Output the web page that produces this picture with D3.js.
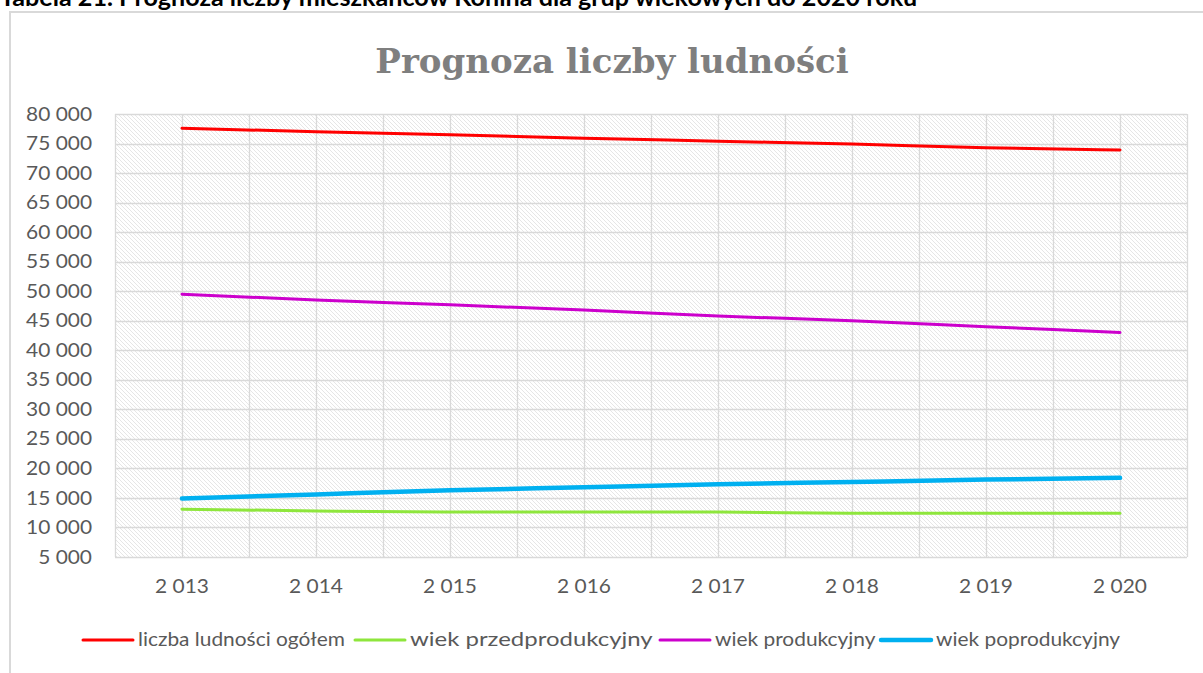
<!DOCTYPE html>
<html><head><meta charset="utf-8">
<script src="https://cdn.jsdelivr.net/npm/d3@7"></script>
<style>
html,body{margin:0;padding:0;background:#fff;overflow:hidden}
svg{display:block}
</style></head>
<body>
<svg id="c" width="1203" height="673"></svg>
<script>
const caption = "Tabela 21. Prognoza liczby mieszkańców Konina dla grup wiekowych do 2020 roku";
const title = "Prognoza liczby ludności";
const years = ["2 013","2 014","2 015","2 016","2 017","2 018","2 019","2 020"];
const seriesNames = ["liczba ludności ogółem","wiek przedprodukcyjny","wiek produkcyjny","wiek poprodukcyjny"];
const ogolem = [77600, 77000, 76500, 75900, 75400, 74900, 74300, 73900];
const przed = [13100, 12800, 12600, 12600, 12600, 12400, 12400, 12400];
const prod = [49500, 48500, 47700, 46800, 45800, 45000, 44000, 43000];
const poprod = [14900, 15600, 16300, 16800, 17300, 17700, 18100, 18400];
const yTicks = [5000,10000,15000,20000,25000,30000,35000,40000,45000,50000,55000,60000,65000,70000,75000,80000];

const colors = ["#ff0000","#8ee63c","#cc00cc","#00b0f0"];
const widths = [3,3,3,4.5];
const data = [ogolem, przed, prod, poprod];

const svg = d3.select("#c");
const font = "Lato, 'Open Sans', sans-serif";
function widen(sel, k){
  const f = k || 1.1;
  sel.each(function(){
    const w = this.getComputedTextLength();
    d3.select(this).attr("textLength", w*f).attr("lengthAdjust","spacingAndGlyphs");
  });
}

// caption (cut off at top, as in the source page)
const cap = svg.append("text").attr("x",0).attr("y",6).attr("font-family",font)
  .attr("font-weight","bold").attr("font-size",20).attr("fill","#000").text(caption);
{
  const w = cap.node().getComputedTextLength();
  cap.attr("font-size", 20*918/w);
}

svg.append("rect").attr("x",10).attr("y",12).attr("width",1220).attr("height",700)
  .attr("fill","#fff").attr("stroke","#d9d9d9").attr("stroke-width",2);

const defs = svg.append("defs");
const pat = defs.append("pattern").attr("id","hatch").attr("patternUnits","userSpaceOnUse")
  .attr("width",4).attr("height",4);
pat.append("rect").attr("width",4).attr("height",4).attr("fill","#fff");
pat.append("path").attr("d","M-1,-1 L5,5 M-1,3 L1,5 M3,-1 L5,1").attr("stroke","#e0e0e0").attr("stroke-width",0.8);

const pLeft = 115, pRight = 1187, pTop = 114, pBottom = 557;
const x = d3.scaleBand().domain(years).range([pLeft,pRight]);
const y = d3.scaleLinear().domain([5000,80000]).range([pBottom,pTop]);

svg.append("rect").attr("x",pLeft).attr("y",pTop).attr("width",pRight-pLeft).attr("height",pBottom-pTop)
  .attr("fill","url(#hatch)");

const g = svg.append("g");
g.selectAll("line.h").data(yTicks).join("line")
  .attr("x1",pLeft).attr("x2",pRight).attr("y1",d=>Math.round(y(d))+0.5).attr("y2",d=>Math.round(y(d))+0.5)
  .attr("stroke","#d9d9d9").attr("stroke-width",1.3);
const vpos = [];
years.forEach(d=>{vpos.push(x(d)); vpos.push(x(d)+x.bandwidth()/2);});
vpos.push(pRight);
g.selectAll("line.v").data(vpos).join("line")
  .attr("x1",d=>Math.round(d)+0.5).attr("x2",d=>Math.round(d)+0.5).attr("y1",pTop).attr("y2",pBottom)
  .attr("stroke","#d9d9d9").attr("stroke-width",1.3);

const fmt = v => d3.format(",")(v).replace(/,/g," ");
const yAxis = d3.axisLeft(y).tickValues(yTicks).tickFormat(fmt).tickSize(0).tickPadding(23);
const ya = svg.append("g").attr("transform",`translate(${pLeft},0)`).call(yAxis);
ya.select(".domain").remove();
ya.selectAll("text").attr("font-family",font).attr("font-size",19).attr("fill","#595959").call(widen);

const xAxis = d3.axisBottom(x).tickSize(0).tickPadding(23);
const xa = svg.append("g").attr("transform",`translate(0,${pBottom})`).call(xAxis);
xa.select(".domain").remove();
xa.selectAll("text").attr("font-family",font).attr("font-size",19).attr("fill","#595959").call(widen);

const line = d3.line().x((d,i)=>x(years[i])+x.bandwidth()/2).y(d=>y(d)).curve(d3.curveMonotoneX);
data.forEach((s,i)=>{
  svg.append("path").datum(s).attr("d",line).attr("fill","none")
    .attr("stroke",colors[i]).attr("stroke-width",widths[i]).attr("stroke-linecap","round");
});

svg.append("text").attr("x",612).attr("y",73).attr("text-anchor","middle")
  .attr("font-family","'DejaVu Serif', 'Liberation Serif', serif").attr("font-weight","bold")
  .attr("font-size",34).attr("fill","#7f7f7f").text(title);

const legX = [83, 355, 660, 881];
const legStretch = [1.1, 1.26, 1.1, 1.1];
const lg = svg.append("g");
seriesNames.forEach((n,i)=>{
  lg.append("line").attr("x1",legX[i]).attr("x2",legX[i]+50).attr("y1",640).attr("y2",640)
    .attr("stroke",colors[i]).attr("stroke-width",widths[i]).attr("stroke-linecap","round");
  lg.append("text").attr("x",legX[i]+55).attr("y",646).attr("font-family",font).attr("font-size",19)
    .attr("fill","#595959").text(n).call(widen, legStretch[i]);
});
</script>
</body></html>
